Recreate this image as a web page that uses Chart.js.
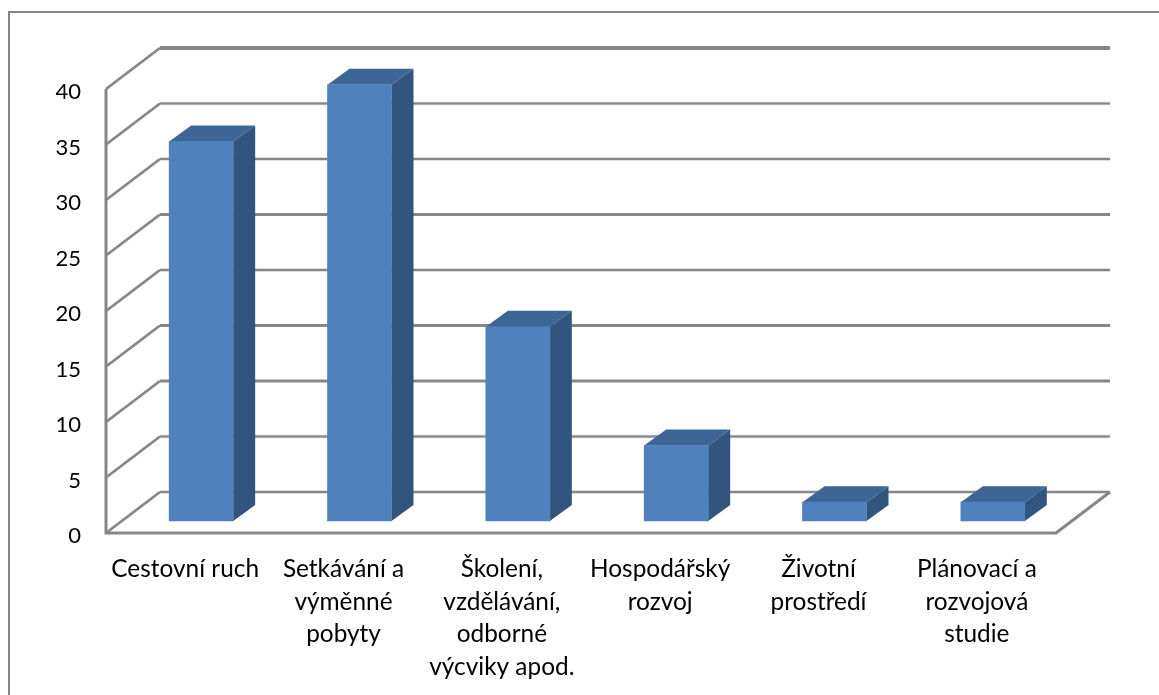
<!DOCTYPE html>
<html>
<head>
<meta charset="utf-8">
<script src="https://cdn.jsdelivr.net/npm/chart.js@4"></script>
<style>
  html, body { margin: 0; background: #fff; overflow: hidden; }
  canvas { display: block; }
</style>
</head>
<body>
<canvas id="myChart" width="1159" height="695"></canvas>
<script>
var categories = [
    'Cestovní ruch',
    ['Setkávání a', 'výměnné', 'pobyty'],
    ['Školení,', 'vzdělávání,', 'odborné', 'výcviky apod.'],
    ['Hospodářský', 'rozvoj'],
    ['Životní', 'prostředí'],
    ['Plánovací a', 'rozvojová', 'studie']
];
var values = [34.2, 39.3, 17.5, 6.8, 1.7, 1.7];
var yMin = 0, yMax = 40, yStep = 5;

var lineColor = '#868686';
var wallDepth = { x: 54, y: -41 };   // how far the back wall sits behind the axis
var barShift = { x: 16, y: -12 };    // bars stand a little way into the floor
var barDepth = { x: 22, y: -16 };

function poly(ctx, color, pts) {
    ctx.fillStyle = color;
    ctx.beginPath();
    ctx.moveTo(pts[0][0], pts[0][1]);
    for (var i = 1; i < pts.length; i++) ctx.lineTo(pts[i][0], pts[i][1]);
    ctx.closePath();
    ctx.fill();
}

function hline(ctx, x0, x1, y, width, color) {
    ctx.strokeStyle = color;
    ctx.lineWidth = width;
    ctx.beginPath();
    ctx.moveTo(x0, y);
    ctx.lineTo(x1, y);
    ctx.stroke();
}

var box3d = {
    id: 'box3d',
    beforeDraw: function (chart) {
        var ctx = chart.ctx;
        ctx.save();
        ctx.fillStyle = '#fff';
        ctx.fillRect(0, 0, chart.width, chart.height);
        // outer frame runs off the right and bottom of the page
        ctx.strokeStyle = lineColor;
        ctx.lineWidth = 2;
        ctx.strokeRect(9, 12, 1300, 900);
        ctx.restore();
    },
    beforeDatasetsDraw: function (chart) {
        var ctx = chart.ctx, area = chart.chartArea, y = chart.scales.y;
        var backL = area.left + wallDepth.x, backR = area.right + wallDepth.x;
        ctx.save();
        // walls: each gridline runs back along the side wall, then across the back
        y.ticks.forEach(function (tick) {
            var py = y.getPixelForValue(tick.value), by = py + wallDepth.y;
            ctx.strokeStyle = lineColor;
            ctx.lineWidth = 2.8;
            ctx.beginPath();
            ctx.moveTo(area.left, py);
            ctx.lineTo(backL, by);
            ctx.stroke();
            if (tick.value === yMax) {
                hline(ctx, backL, backR, by, 4, lineColor);
            } else if (tick.value === 25 || tick.value === 15 || tick.value === 10) {
                hline(ctx, backL, backR, by, 3, lineColor);
            } else {
                hline(ctx, backL, backR, by, 3.6, '#d4d4d4');
                hline(ctx, backL, backR, by, 2, lineColor);
            }
        });
        // front axis and floor edge
        ctx.strokeStyle = lineColor;
        ctx.lineWidth = 3;
        ctx.beginPath();
        ctx.moveTo(area.left, area.top);
        ctx.lineTo(area.left, area.bottom);
        ctx.lineTo(area.right, area.bottom);
        ctx.lineTo(backR, area.bottom + wallDepth.y);
        ctx.stroke();
        ctx.restore();

        // side and top of each bar; the front face is the bar element itself
        ctx.save();
        ctx.translate(barShift.x, barShift.y);
        chart.getDatasetMeta(0).data.forEach(function (bar) {
            var l = bar.x - bar.width / 2, r = bar.x + bar.width / 2;
            var dx = barDepth.x, dy = barDepth.y;
            poly(ctx, '#31557F', [[r, bar.y], [r + dx, bar.y + dy], [r + dx, bar.base + dy], [r, bar.base]]);
            poly(ctx, '#3D6595', [[l, bar.y], [l + dx, bar.y + dy], [r + dx, bar.y + dy], [r, bar.y]]);
        });
    },
    afterDatasetsDraw: function (chart) {
        chart.ctx.restore();
    }
};

var ctx = document.getElementById('myChart').getContext('2d');
var myChart = new Chart(ctx, {
    type: 'bar',
    data: {
        labels: categories,
        datasets: [{
            data: values,
            backgroundColor: '#4F81BD',
            borderWidth: 0,
            barThickness: 64,
            clip: false
        }]
    },
    options: {
        responsive: false,
        animation: false,
        layout: { padding: { top: 89, right: 103, left: 0, bottom: 0 } },
        plugins: { legend: { display: false }, tooltip: { enabled: false } },
        scales: {
            x: {
                grid: { display: false, drawTicks: false },
                border: { display: false },
                ticks: {
                    autoSkip: false,
                    maxRotation: 0,
                    minRotation: 0,
                    padding: 20,
                    color: '#000',
                    font: { family: 'Lato', size: 24.4, lineHeight: 1.333 }
                },
                afterFit: function (scale) { scale.height = 162; }
            },
            y: {
                min: yMin,
                max: yMax,
                grid: { display: false, drawTicks: false },
                border: { display: false },
                ticks: {
                    stepSize: yStep,
                    padding: 25,
                    labelOffset: 3,
                    color: '#000',
                    font: { family: 'Lato', size: 22 }
                },
                afterFit: function (scale) { scale.width = 106; }
            }
        }
    },
    plugins: [box3d]
});
</script>
</body>
</html>
